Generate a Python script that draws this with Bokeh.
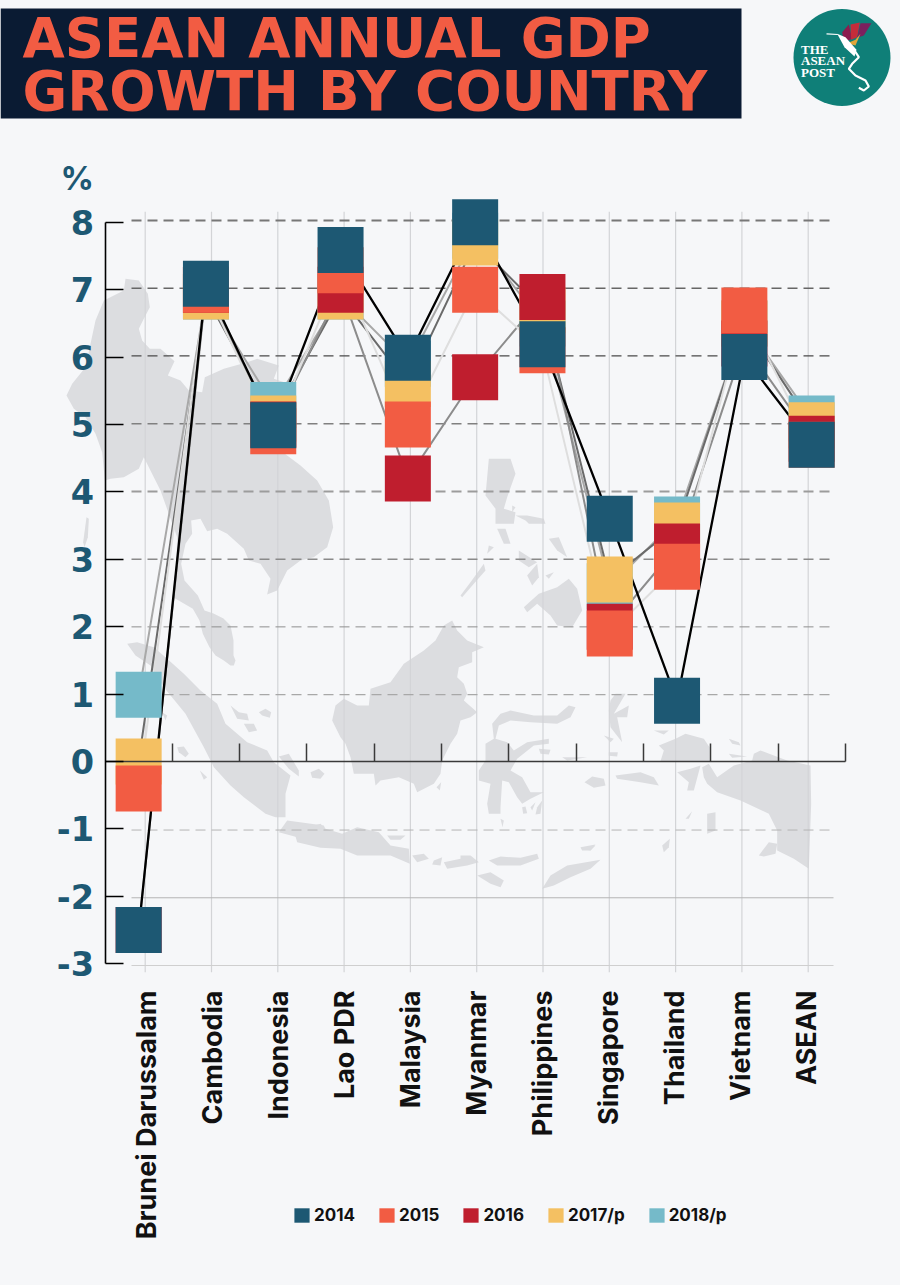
from math import pi
from bokeh.plotting import figure
from bokeh.embed import file_html
from bokeh.resources import INLINE
from bokeh.core.properties import value
from bokeh.models import (Range1d, LinearAxis, FixedTicker, ColumnDataSource, Legend, LegendItem)

# ---------- data ----------
countries = ["Brunei Darussalam", "Cambodia", "Indonesia", "Lao PDR", "Malaysia", "Myanmar",
             "Philippines", "Singapore", "Thailand", "Vietnam", "ASEAN"]
gdp_2014 = [-2.5, 7.09, 4.99, 7.59, 5.99, 8.0, 6.19, 3.6, 0.9, 6.0, 4.7]
gdp_2015 = [-0.4, 7.0, 4.9, 7.29, 5.0, 7.0, 6.1, 1.9, 2.89, 6.69, 4.7]
gdp_2016 = [-2.5, 7.0, 5.0, 7.0, 4.2, 5.7, 6.89, 2.0, 3.19, 6.2, 4.79]
gdp_2017 = [0.0, 6.9, 5.09, 6.9, 5.6, 7.7, 6.7, 2.7, 3.5, 6.5, 4.99]
gdp_2018 = [0.99, 6.9, 5.29, 6.9, 5.9, 7.8, 6.5, 2.6, 3.59, 6.5, 5.09]
y_ticks = [-3, -2, -1, 0, 1, 2, 3, 4, 5, 6, 7, 8]
title_lines = ["ASEAN ANNUAL GDP", "GROWTH BY COUNTRY"]

BG = "#f6f7f9"
INK = "#1d5873"
C14, C15, C16, C17, C18 = "#1d5873", "#f25c43", "#bf1e2e", "#f4c062", "#75bac9"
L14, L15, L16, L17, L18 = "#000000", "#dedede", "#8c8c8c", "#6a6a6a", "#a8a8a8"
MAP = "#dcdde0"
FONT = "Inter"
WIDE = "DejaVu Sans"
BASE = 0.366   # alphabetic baseline shift of the svg text, per em

# ---------- scales: the canvas is the frame ----------
W, H = 900, 1285
BAND, X0 = 67.3, 104.5          # category band width, pixel of band edge 0
UNIT, Y0 = 67.4, 761.0          # pixels per %, pixel of 0 %
LABEL_PX = 27
LAB0 = 156.0 - BASE * LABEL_PX
p = figure(width=W, height=H, output_backend="svg", toolbar_location=None,
           x_range=Range1d(-X0 / BAND, (W - X0) / BAND),
           y_range=Range1d(-(H - Y0) / UNIT, Y0 / UNIT),
           x_axis_location=None, y_axis_location=None, min_border=0,
           background_fill_color=BG, border_fill_color=BG, outline_line_color=None)
p.grid.visible = False
p.extra_x_ranges = {
    "px": Range1d(0, W),
    "gx": Range1d(-144.7 / 66.3, (W - 144.7) / 66.3),     # vertical grid positions
    "lab": Range1d(-LAB0 / 66.0, (W - LAB0) / 66.0),      # category text baselines
}
GU = 745 / 11
p.extra_y_ranges = {
    "px": Range1d(H, 0),
    "gy": Range1d(-3 - (H - 965) / GU, 8 + 220 / GU),     # horizontal grid positions
}
PX = dict(x_range_name="px", y_range_name="px")


def crop(ox, oy, pts):
    return [ox + a / 3 for a, b in pts], [oy + b / 3 for a, b in pts]


# ---------- background map (decoration, traced) ----------
c6 = [[(195,25),(235,30),(262,70),(268,110),(250,145),(235,175),(245,210),(268,235),(300,235),(342,272),
       (322,315),(360,330),(385,360),(425,365),(433,320),(490,295),(560,275),(590,265),(655,285),(640,325),
       (700,345),(660,540),(720,585),(770,630),(805,690),(818,770),(800,830),(760,860),(720,870),(680,900),
       (650,960),(620,972),(630,925),(600,880),(565,870),(550,835),(500,790),(470,775),(440,782),(420,745),
       (392,750),(395,790),(375,820),(362,880),(372,930),(412,975),(432,1020),(459,1029),(489,1044),(510,1065),
       (519,1110),(519,1155),(525,1170),(520,1185),(510,1185),(490,1170),(465,1155),(447,1130),(427,1090),(417,1050),(397,1015),(339,981),
       (345,940),(350,800),(300,660),(280,620),(250,560),(235,595),(190,620),(150,625),(133,630),(125,545),
       (105,490),(75,440),(40,415),(18,375),(35,340),(75,290),(90,220),(105,150),(130,90),(190,60)],
      [(78,740),(85,745),(82,800),(72,830),(68,815)]]
c7 = [[(50,160),(80,155),(130,170),(170,205),(220,250),(270,300),(320,340),(345,400),(410,455),(470,480),
       (490,515),(540,555),(525,610),(525,680),(495,680),(465,670),(400,620),(360,585),(310,530),(280,470),
       (225,370),(160,290),(120,225),(75,195)],
      [(200,470),(220,468),(235,490),(225,500),(205,485)],
      [(360,345),(385,365),(410,370),(415,390),(380,385)],
      [(400,400),(430,400),(440,420),(415,425)],
      [(445,365),(465,355),(482,365),(478,382),(455,375)],
      [(505,498),(535,490),(565,540),(565,558),(535,535)],
      [(600,545),(625,535),(642,550),(630,565),(605,562)],
      [(155,365),(170,375),(165,390)],
      [(268,540),(290,560),(280,568)],
      [(505,725),(530,690),(640,705),(650,730),(577,745)]]
c8 = [[(430,45),(455,30),(470,60),(500,90),(550,110),(515,125),(515,155),(475,170),(470,200),(490,220),
       (500,250),(490,270),(530,305),(510,320),(480,330),(470,370),(450,400),(425,450),(420,490),(400,520),
       (350,545),(340,520),(295,500),(240,510),(225,525),(220,490),(160,490),(150,440),(135,400),(120,380),
       (95,330),(105,285),(130,265),(170,285),(205,285),(210,235),(270,215),(310,160),(370,120),(405,90)],
      [(630,300),(700,315),(770,315),(805,285),(825,290),(810,320),(770,340),(690,335),(630,330),(595,345),
       (585,385),(620,395),(640,420),(680,395),(745,385),(745,400),(700,405),(650,445),(630,480),(665,500),
       (690,545),(730,545),(690,565),(665,580),(650,560),(625,515),(605,510),(600,590),(600,610),(565,610),
       (560,580),(570,520),(535,510),(535,480),(555,450),(555,400),(580,385),(575,340),(600,310)],
      [(60,640),(75,655),(125,670),(170,650),(235,665),(270,705),(325,715),(328,760),(270,735),(170,735),
       (120,715),(60,712),(-10,695),(-20,660)],
      [(335,735),(370,730),(385,745),(350,755)], [(400,750),(425,740),(420,765),(395,762)],
      [(430,755),(480,745),(480,735),(510,735),(535,755),(500,765),(440,775)],
      [(565,750),(600,738),(660,742),(710,730),(715,745),(660,765),(590,765)],
      [(530,795),(570,785),(610,810),(600,830),(570,820)],
      [(725,835),(750,795),(800,765),(900,748),(870,775),(810,800),(760,825)],
      [(260,675),(315,675),(300,688),(270,688)],
      [(665,590),(675,588),(680,608),(668,610)], [(690,590),(705,575),(695,600)],
      [(710,590),(725,570),(720,610),(705,612)], [(715,415),(750,418),(745,432),(720,430)],
      [(785,440),(860,440),(800,450)], [(408,530),(422,515),(418,540)], [(840,715),(885,705),(870,720)],
      [(600,625),(610,630),(606,650)]]
c9 = [[(85,55),(150,55),(165,100),(140,170),(130,205),(165,215),(160,250),(105,250),(105,205),(75,165),(80,110)],
      [(165,225),(200,225),(250,235),(255,250),(205,250),(195,240)],
      [(190,500),(235,460),(290,440),(325,415),(350,445),(365,510),(335,560),(290,555),(270,525),(230,490),(200,515)],
      [(110,265),(135,265),(150,310),(130,310)], [(175,330),(230,365),(205,380),(175,360)],
      [(265,295),(295,290),(320,350),(290,330)], [(200,405),(230,370),(235,410),(215,435)],
      [(255,405),(280,395),(265,415)], [(0,465),(30,425),(70,370),(75,390),(40,430),(5,470)],
      [(85,315),(100,320),(80,340)], [(155,195),(165,200),(155,215)]]
c10 = [[(295,225),(345,205),(375,190),(430,205),(447,230),(447,272),(300,272),(310,240)],
       [(425,290),(445,280),(470,320),(520,285),(575,270),(580,250),(600,240),(640,255),(680,270),(750,285),
        (752,400),(745,595),(700,565),(650,540),(650,480),(625,430),(540,390),(470,365),(440,340),(430,320)],
       [(350,305),(390,295),(420,285),(400,360),(380,360),(385,335)],
       [(595,555),(625,515),(650,520),(645,550),(610,558)], [(505,205),(535,215),(540,225),(515,220)],
       [(505,250),(560,258),(515,262)], [(440,430),(465,425),(465,480),(440,490)],
       [(305,525),(328,505),(325,530),(310,545)], [(280,180),(325,180),(310,192)],
       [(72,335),(95,318),(130,325),(135,345),(100,352)], [(165,315),(240,305),(280,320),(295,345),(240,335),(170,325)],
       [(150,90),(165,70),(195,70),(160,130),(205,105),(200,140),(170,140),(185,215),(150,170),(145,120)],
       [(130,195),(160,205),(150,215)], [(145,245),(172,245),(170,258),(145,256)],
       [(60,530),(105,522),(90,540),(65,540)], [(375,445),(395,422),(385,445)]]
xs, ys = [], []
for (ox, oy), group in [((60, 270), c6), ((110, 590), c7), ((300, 610), c8), ((460, 440), c9), ((560, 670), c10)]:
    for poly in group:
        a, b = crop(ox, oy, poly)
        xs.append(a)
        ys.append(b)
p.patches(xs, ys, fill_color=MAP, line_color=None, **PX)

# ---------- grid ----------
grid_style = {8: ("#777777", 1.8), 7: ("#666666", 1.5), 6: ("#4a4a4a", 1.2), 5: ("#808080", 1.5),
              4: ("#9c9c9c", 2.0), 3: ("#8a8a8a", 1.5), 2: ("#8f8f8f", 1.0), 1: ("#a8a8a8", 1.3),
              -1: ("#b5b5b5", 1.0), -2: ("#b5b5b5", 1.0), -3: ("#cfcfcf", 1.0)}
p.segment(x0=[i for i in range(11)], x1=[i for i in range(11)], y0=[-3.1] * 11, y1=[8.13] * 11,
          x_range_name="gx", y_range_name="gy", line_color="#d3d4d7", line_width=1.2)
gx_start, gx_end = (131 - 144.7) / 66.3, (833 - 144.7) / 66.3
for v, (col, lw) in grid_style.items():
    p.segment(x0=[gx_start], x1=[gx_end], y0=[v], y1=[v], x_range_name="gx", y_range_name="gy",
              line_color=col, line_width=lw, line_dash="solid" if v < -1 else "10 6")

# ---------- axes ----------
yaxis = LinearAxis(fixed_location=0, ticker=FixedTicker(ticks=y_ticks), bounds=(-3, 8),
                   major_label_overrides={t: str(t) for t in y_ticks},
                   axis_line_color="#000000", axis_line_width=1.6,
                   major_tick_in=18, major_tick_out=0, minor_tick_in=0, minor_tick_out=0,
                   major_tick_line_color="#000000", major_tick_line_width=1.5,
                   major_label_text_font=WIDE, major_label_text_font_style="bold",
                   major_label_text_font_size="33.5px", major_label_text_color=INK,
                   major_label_standoff=11)
p.add_layout(yaxis, "left")
xaxis = LinearAxis(fixed_location=0, ticker=FixedTicker(ticks=list(range(1, 12))), bounds=(0, 11),
                   major_label_overrides={t: "" for t in range(1, 12)},
                   axis_line_color="#3a3a3a", axis_line_width=1.6,
                   major_tick_in=18, major_tick_out=0, minor_tick_in=0, minor_tick_out=0,
                   major_tick_line_color="#3a3a3a", major_tick_line_width=1.5)
p.add_layout(xaxis, "below")

# ---------- series ----------
pos = [i + 0.5 for i in range(len(countries))]
series = [("2018/p", gdp_2018, C18, L18), ("2017/p", gdp_2017, C17, L17), ("2016", gdp_2016, C16, L16),
          ("2015", gdp_2015, C15, L15), ("2014", gdp_2014, C14, L14)]
for name, vals, col, lc in series:
    p.line(pos, vals, line_color=lc, line_width=2.3 if name == "2014" else 2)
renderers = {}
for name, vals, col, lc in series:
    src = ColumnDataSource(dict(x=pos, y=vals))
    renderers[name] = p.rect("x", "y", source=src, width=46, height=46, width_units="screen",
                             height_units="screen", fill_color=col, line_color=None)

# ---------- category labels ----------
p.text(x=list(range(len(countries))), y=[(Y0 - 990) / UNIT] * len(countries), text=countries,
       x_range_name="lab", angle=pi / 2, text_align="right", text_baseline="alphabetic",
       text_font=value(FONT), text_font_style="bold", text_font_size=f"{LABEL_PX}px", text_color="#111111")

# ---------- header ----------
TITLE_PX = 54.6
p.quad(left=[0], right=[741], top=[8], bottom=[118], fill_color="#0a1b33", line_color=None, **PX)
p.text(x=[22, 22], y=[57.5 - BASE * TITLE_PX, 110 - BASE * TITLE_PX], text=title_lines, text_font=value(WIDE),
       text_font_style="bold", text_font_size=f"{TITLE_PX}px", text_color="#f25c43", text_align="left",
       text_baseline="alphabetic", **PX)
p.text(x=[93.5], y=[190 - BASE * 33], text=["%"], text_font=value(FONT), text_font_style="bold", text_font_size="33px",
       text_color=INK, text_align="right", text_baseline="alphabetic", **PX)

# ---------- logo ----------
p.scatter(x=[841.5], y=[57], size=97, marker="circle", fill_color="#0f7f78", line_color=None, **PX)
p.text(x=[800.5] * 3, y=[v - BASE * 13 for v in (53.5, 65, 76.5)], text=["THE", "ASEAN", "POST"],
       text_font=value("Liberation Serif"), text_font_style="bold", text_font_size="13px", text_color="#ffffff",
       text_align="left", text_baseline="alphabetic", **PX)
for pts, col in [([(430, 125), (425, 95), (445, 72), (455, 115)], "#8c1d4f"),
                 ([(452, 118), (450, 72), (478, 66), (470, 110)], "#c52c3a"),
                 ([(470, 112), (480, 68), (513, 68), (490, 105)], "#7d1f5e"),
                 ([(440, 128), (465, 118), (480, 100), (465, 135)], "#e0a63a")]:
    a, b = crop(700, 0, pts)
    p.patch(a, b, fill_color=col, line_color=None, **PX)
a, b = crop(700, 0, [(378, 100), (412, 102)])
p.line(a, b, line_color="#ffffff", line_width=1.2, **PX)
a, b = crop(700, 0, [(410, 100), (435, 110), (468, 148), (462, 168), (432, 140)])
p.patch(a, b, fill_color="#ffffff", line_color=None, **PX)
a, b = crop(700, 0, [(462, 150), (475, 170), (455, 190), (445, 205), (465, 225), (495, 240), (505, 258), (490, 270), (475, 262)])
p.line(a, b, line_color="#ffffff", line_width=2.2, **PX)

# ---------- legend ----------
legend = Legend(items=[LegendItem(label=n, renderers=[renderers[n]]) for n in ["2014", "2015", "2016", "2017/p", "2018/p"]],
                orientation="horizontal", location=(292, H - 1225), padding=0, margin=0, spacing=22,
                glyph_width=19, glyph_height=18, label_standoff=3, background_fill_alpha=0,
                border_line_color=None, label_text_font=FONT, label_text_font_style="bold",
                label_text_font_size="17px", label_text_color="#111111")
p.add_layout(legend)

html = file_html(p, INLINE)
html = html.replace("<head>", f"<head><style>html,body{{margin:0;padding:0;background:{BG}}}</style>", 1)
open("out.html", "w").write(html)
